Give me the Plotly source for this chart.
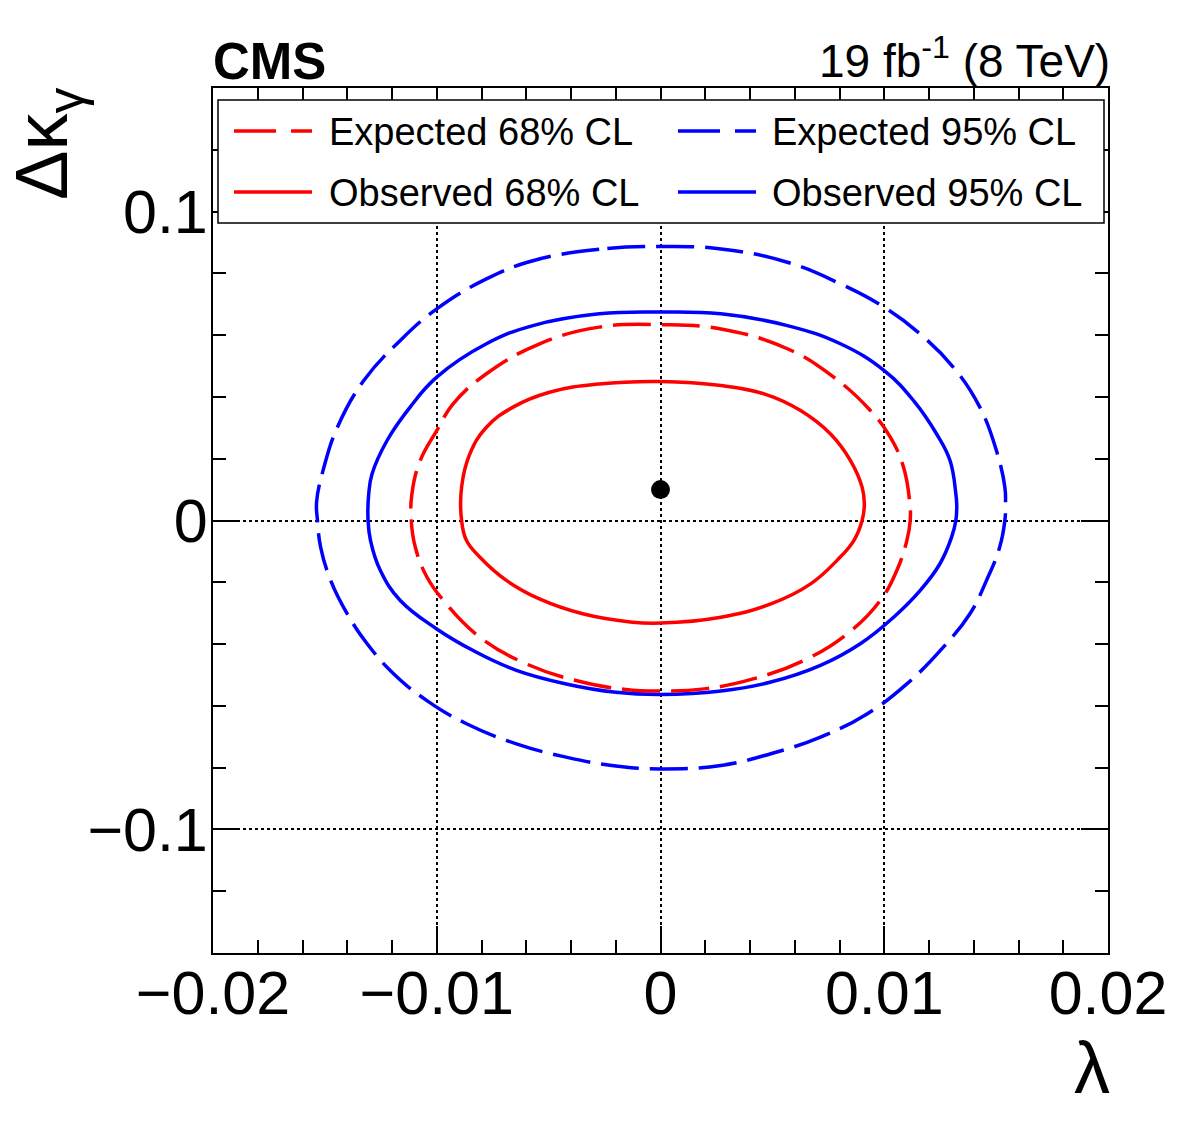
import plotly.graph_objects as go

# ---------------- data ----------------
exp95_lam = [0, -0.00274, -0.0057, -0.00778, -0.0100, -0.01163, -0.01326, -0.01444, -0.01504, -0.01537,
             -0.01533, -0.01519, -0.01474, -0.0140, -0.01311, -0.01193, -0.01044, -0.00867, -0.00644, -0.00422,
             -0.0020, 0, 0.0027, 0.00493, 0.00715, 0.00923, 0.01101, 0.01264, 0.01383, 0.01457,
             0.01516, 0.01539, 0.01542, 0.01539, 0.01501, 0.01427, 0.01309, 0.0116, 0.0100, 0.00804,
             0.00567, 0.0027, 0]
exp95_dk = [0.0887, 0.0878, 0.0841, 0.0782, 0.0685, 0.0583, 0.0453, 0.0302, 0.0173, 0.0060,
            0.0, -0.0086, -0.0194, -0.0302, -0.0399, -0.0496, -0.0583, -0.0658, -0.0723, -0.0766,
            -0.0795, -0.0804, -0.0793, -0.0755, -0.0701, -0.0626, -0.0529, -0.0410, -0.0302, -0.0194,
            -0.0086, 0.0, 0.0055, 0.0108, 0.0227, 0.0367, 0.0496, 0.0604, 0.0690, 0.0766,
            0.0836, 0.0879, 0.0887]

obs95_lam = [0, -0.00274, -0.0057, -0.00778, -0.0100, -0.01119, -0.01222, -0.01289, -0.01304, -0.01307,
             -0.01296, -0.01252, -0.01163, -0.0100, -0.00837, -0.00644, -0.00422, -0.0020, 0, 0.0027,
             0.00493, 0.00715, 0.00893, 0.01042, 0.0116, 0.01249, 0.01301, 0.0132, 0.01324, 0.0132,
             0.01294, 0.01234, 0.01131, 0.0100, 0.00804, 0.00567, 0.0027, 0]
obs95_dk = [0.0675, 0.0669, 0.0631, 0.0572, 0.0464, 0.0367, 0.0259, 0.0151, 0.0086, 0.0,
            -0.0065, -0.0162, -0.0259, -0.0351, -0.0421, -0.0485, -0.0529, -0.0556, -0.0563, -0.0552,
            -0.0523, -0.0469, -0.0399, -0.0313, -0.0227, -0.0140, -0.0054, 0.0, 0.0050, 0.0086,
            0.0194, 0.0280, 0.0388, 0.0485, 0.0572, 0.0631, 0.0669, 0.0675]

exp68_lam = [0, -0.00274, -0.0054, -0.00778, -0.00926, -0.0100, -0.01074, -0.01111, -0.01114, -0.01096,
             -0.01044, -0.0097, -0.00807, -0.0060, -0.00378, -0.00156, 0, 0.00196, 0.00418, 0.00641,
             0.00834, 0.00982, 0.01056, 0.01101, 0.01116, 0.01113, 0.01086, 0.01027, 0.00938, 0.00774,
             0.00567, 0.0027, 0]
exp68_dk = [0.0634, 0.0626, 0.0572, 0.0475, 0.0378, 0.0291, 0.0194, 0.0086, 0.0, -0.0086,
            -0.0183, -0.0259, -0.0378, -0.0464, -0.0518, -0.0547, -0.0552, -0.0545, -0.0512, -0.0453,
            -0.0367, -0.0259, -0.0162, -0.0065, 0.0, 0.0065, 0.0173, 0.0270, 0.0356, 0.0464,
            0.0556, 0.0620, 0.0634]

obs68_lam = [0, -0.00274, -0.00496, -0.00659, -0.00778, -0.00852, -0.00889, -0.00889, -0.00867, -0.00807,
             -0.00689, -0.00541, -0.00348, -0.00126, 0, 0.0027, 0.00493, 0.00671, 0.00789, 0.00864,
             0.00901, 0.00911, 0.00901, 0.00849, 0.0076, 0.00626, 0.00463, 0.0027, 0]
obs68_dk = [0.0450, 0.0442, 0.0415, 0.0367, 0.0302, 0.0216, 0.0108, 0.0, -0.0065, -0.0119,
            -0.0194, -0.0254, -0.0302, -0.0329, -0.0332, -0.0313, -0.0270, -0.0205, -0.0129, -0.0065,
            0.0, 0.0054, 0.0108, 0.0194, 0.0280, 0.0356, 0.0410, 0.0437, 0.0450]

best_lam = [0.0]
best_dk = [0.010]

legend_labels = ["Expected 68% CL", "Expected 95% CL", "Observed 68% CL", "Observed 95% CL"]
x_range = [-0.02, 0.02]
y_range = [-0.14, 0.14]

# ---------------- figure ----------------
FONT = "Liberation Sans, Arial, Helvetica, sans-serif"
RED = "#ff0000"
BLUE = "#0000ff"
DASH = "38px,11px"
LW = 3.5

fig = go.Figure()
contours = [
    (exp95_lam, exp95_dk, BLUE, DASH, legend_labels[1]),
    (obs95_lam, obs95_dk, BLUE, "solid", legend_labels[3]),
    (exp68_lam, exp68_dk, RED, DASH, legend_labels[0]),
    (obs68_lam, obs68_dk, RED, "solid", legend_labels[2]),
]
for lx, ly, col, dash, name in contours:
    fig.add_trace(go.Scatter(x=lx, y=ly, mode="lines", name=name, showlegend=False,
                             line=dict(color=col, width=LW, dash=dash, shape="spline", smoothing=1.2)))
fig.add_trace(go.Scatter(x=best_lam, y=best_dk, mode="markers", showlegend=False,
                         marker=dict(color="black", size=19)))

W, H = 1182, 1123
L, R, T, B = 213, 74, 88, 170
pw, ph = W - L - R, H - T - B


def px(x):
    return (x - L) / pw


def py(y):
    return (H - B - y) / ph


axis_common = dict(
    ticks="inside", ticklen=27, tickwidth=2, tickcolor="black",
    showline=True, linewidth=2, linecolor="black", mirror="ticks",
    showgrid=True, gridcolor="black", griddash="dot", gridwidth=1.5,
    zeroline=False, tickfont=dict(family=FONT, size=61, color="black"),
)
fig.update_xaxes(range=x_range, tick0=0, dtick=0.01,
                 minor=dict(dtick=0.002, ticks="inside", ticklen=13, tickwidth=2,
                            tickcolor="black", showgrid=False),
                 ticklabelstandoff=-14, **axis_common)
fig.update_yaxes(range=y_range, tick0=0, dtick=0.1,
                 minor=dict(dtick=0.02, ticks="inside", ticklen=13, tickwidth=2,
                            tickcolor="black", showgrid=False),
                 ticklabelstandoff=-9, **axis_common)

shapes = [dict(type="rect", xref="paper", yref="paper", x0=px(218), x1=px(1104),
               y0=py(223), y1=py(100), fillcolor="white", line=dict(color="black", width=1.5),
               layer="above")]
annotations = []
leg_items = [
    (legend_labels[0], RED, "42px,15px", 234, 312, 327, 131),
    (legend_labels[1], BLUE, "42px,15px", 678, 756, 770, 131),
    (legend_labels[2], RED, "solid", 234, 312, 327, 192),
    (legend_labels[3], BLUE, "solid", 678, 756, 770, 192),
]
for text, col, dash, lx0, lx1, tx, yy in leg_items:
    shapes.append(dict(type="line", xref="paper", yref="paper", x0=px(lx0), x1=px(lx1),
                       y0=py(yy), y1=py(yy), line=dict(color=col, width=LW, dash=dash), layer="above"))
    annotations.append(dict(xref="paper", yref="paper", x=px(tx), y=py(yy + 1), text=text,
                            showarrow=False, xanchor="left", yanchor="middle",
                            font=dict(family=FONT, size=38, color="black")))

annotations += [
    dict(xref="paper", yref="paper", x=px(211), y=py(61), text="<b>CMS</b>", showarrow=False,
         xanchor="left", yanchor="middle", font=dict(family=FONT, size=51, color="black")),
    dict(xref="paper", yref="paper", x=px(1112), y=py(58), text="19 fb<sup>-1</sup> (8 TeV)",
         showarrow=False, xanchor="right", yanchor="middle", font=dict(family=FONT, size=46, color="black")),
    dict(xref="paper", yref="paper", x=px(-2), y=py(86), text="Δκ<sub>γ</sub>", textangle=-90,
         showarrow=False, xanchor="left", yanchor="top", font=dict(family=FONT, size=74, color="black")),
    dict(xref="paper", yref="paper", x=px(1112), y=py(1068), text="λ",
         showarrow=False, xanchor="right", yanchor="middle", font=dict(family=FONT, size=72, color="black")),
]

fig.update_layout(
    width=W, height=H, autosize=False,
    margin=dict(l=L, r=R, t=T, b=B, pad=0),
    paper_bgcolor="white", plot_bgcolor="white",
    shapes=shapes, annotations=annotations, showlegend=False,
    font=dict(family=FONT, color="black"),
)

fig.write_html("out.html")
